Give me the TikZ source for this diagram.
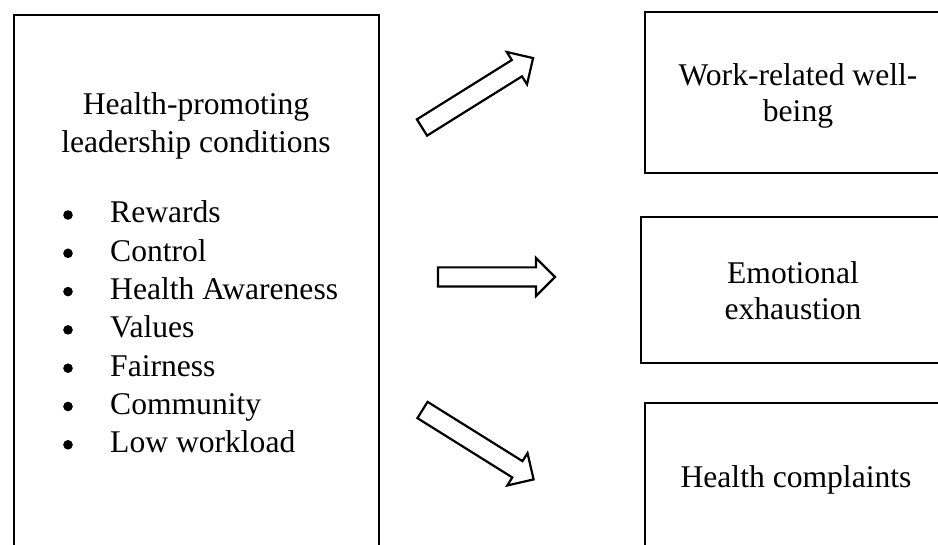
\documentclass[tikz,border=0pt]{standalone}
\usepackage{fontspec}
\setmainfont{Liberation Serif}
\usetikzlibrary{shapes.arrows}
\begin{document}
\begin{tikzpicture}[x=1pt,y=-1pt,
  box/.style={draw=black, line width=1.9pt, outer sep=0pt, inner sep=0pt, anchor=north west},
  txt/.style={inner sep=0pt, anchor=base, font=\fontsize{31.6pt}{36pt}\selectfont},
  itemtxt/.style={txt, anchor=base west},
  dot/.style={circle, fill=black, inner sep=0pt, minimum size=9.6pt},
  blockarrow/.style={single arrow, draw=black, line width=2.2pt, fill=white,
    inner xsep=0pt, inner ysep=8.5pt, minimum width=0pt, outer sep=0pt,
    single arrow head extend=9.5pt, single arrow tip angle=90, anchor=tail}
]
\clip (0,0) rectangle (938,545);

% boxes (the lower and right parts run past the page edge)
\node[box, minimum width=365pt, minimum height=580pt] (cond) at (14,15) {};
\node[box, minimum width=340pt, minimum height=161pt] (wb) at (645,12) {};
\node[box, minimum width=340pt, minimum height=146pt] (ee) at (641,217) {};
\node[box, minimum width=340pt, minimum height=200pt] (hc) at (645,403) {};

% heading of the left box
\node[txt] (h1) at (196,115) {Health-promoting};
\node[txt] (h2) at (196,153) {leadership conditions};

% bulleted list
\foreach \t [count=\i from 0] in {Rewards, Control, Health Awareness, Values, Fairness, Community, Low workload} {
  \node[dot] (d\i) at (68,{215+38.3*\i}) {};
  \node[itemtxt] (i\i) at (110,{223+38.3*\i}) {\t};
}

% outcome labels
\node[txt] (w1) at (798,86) {Work-related well-};
\node[txt] (w2) at (798,121.5) {being};
\node[txt] (e1) at (793,283.5) {Emotional};
\node[txt] (e2) at (793,319.5) {exhaustion};
\node[txt] (c1) at (796,488) {Health complaints};

% block arrows
\node[blockarrow, rotate=32, minimum height=131pt] (a1) at (422,127.5) {};
\node[blockarrow, minimum height=117pt] (a2) at (438,277) {};
\node[blockarrow, rotate=-32, minimum height=131pt] (a3) at (422.5,410) {};
\end{tikzpicture}
\end{document}
